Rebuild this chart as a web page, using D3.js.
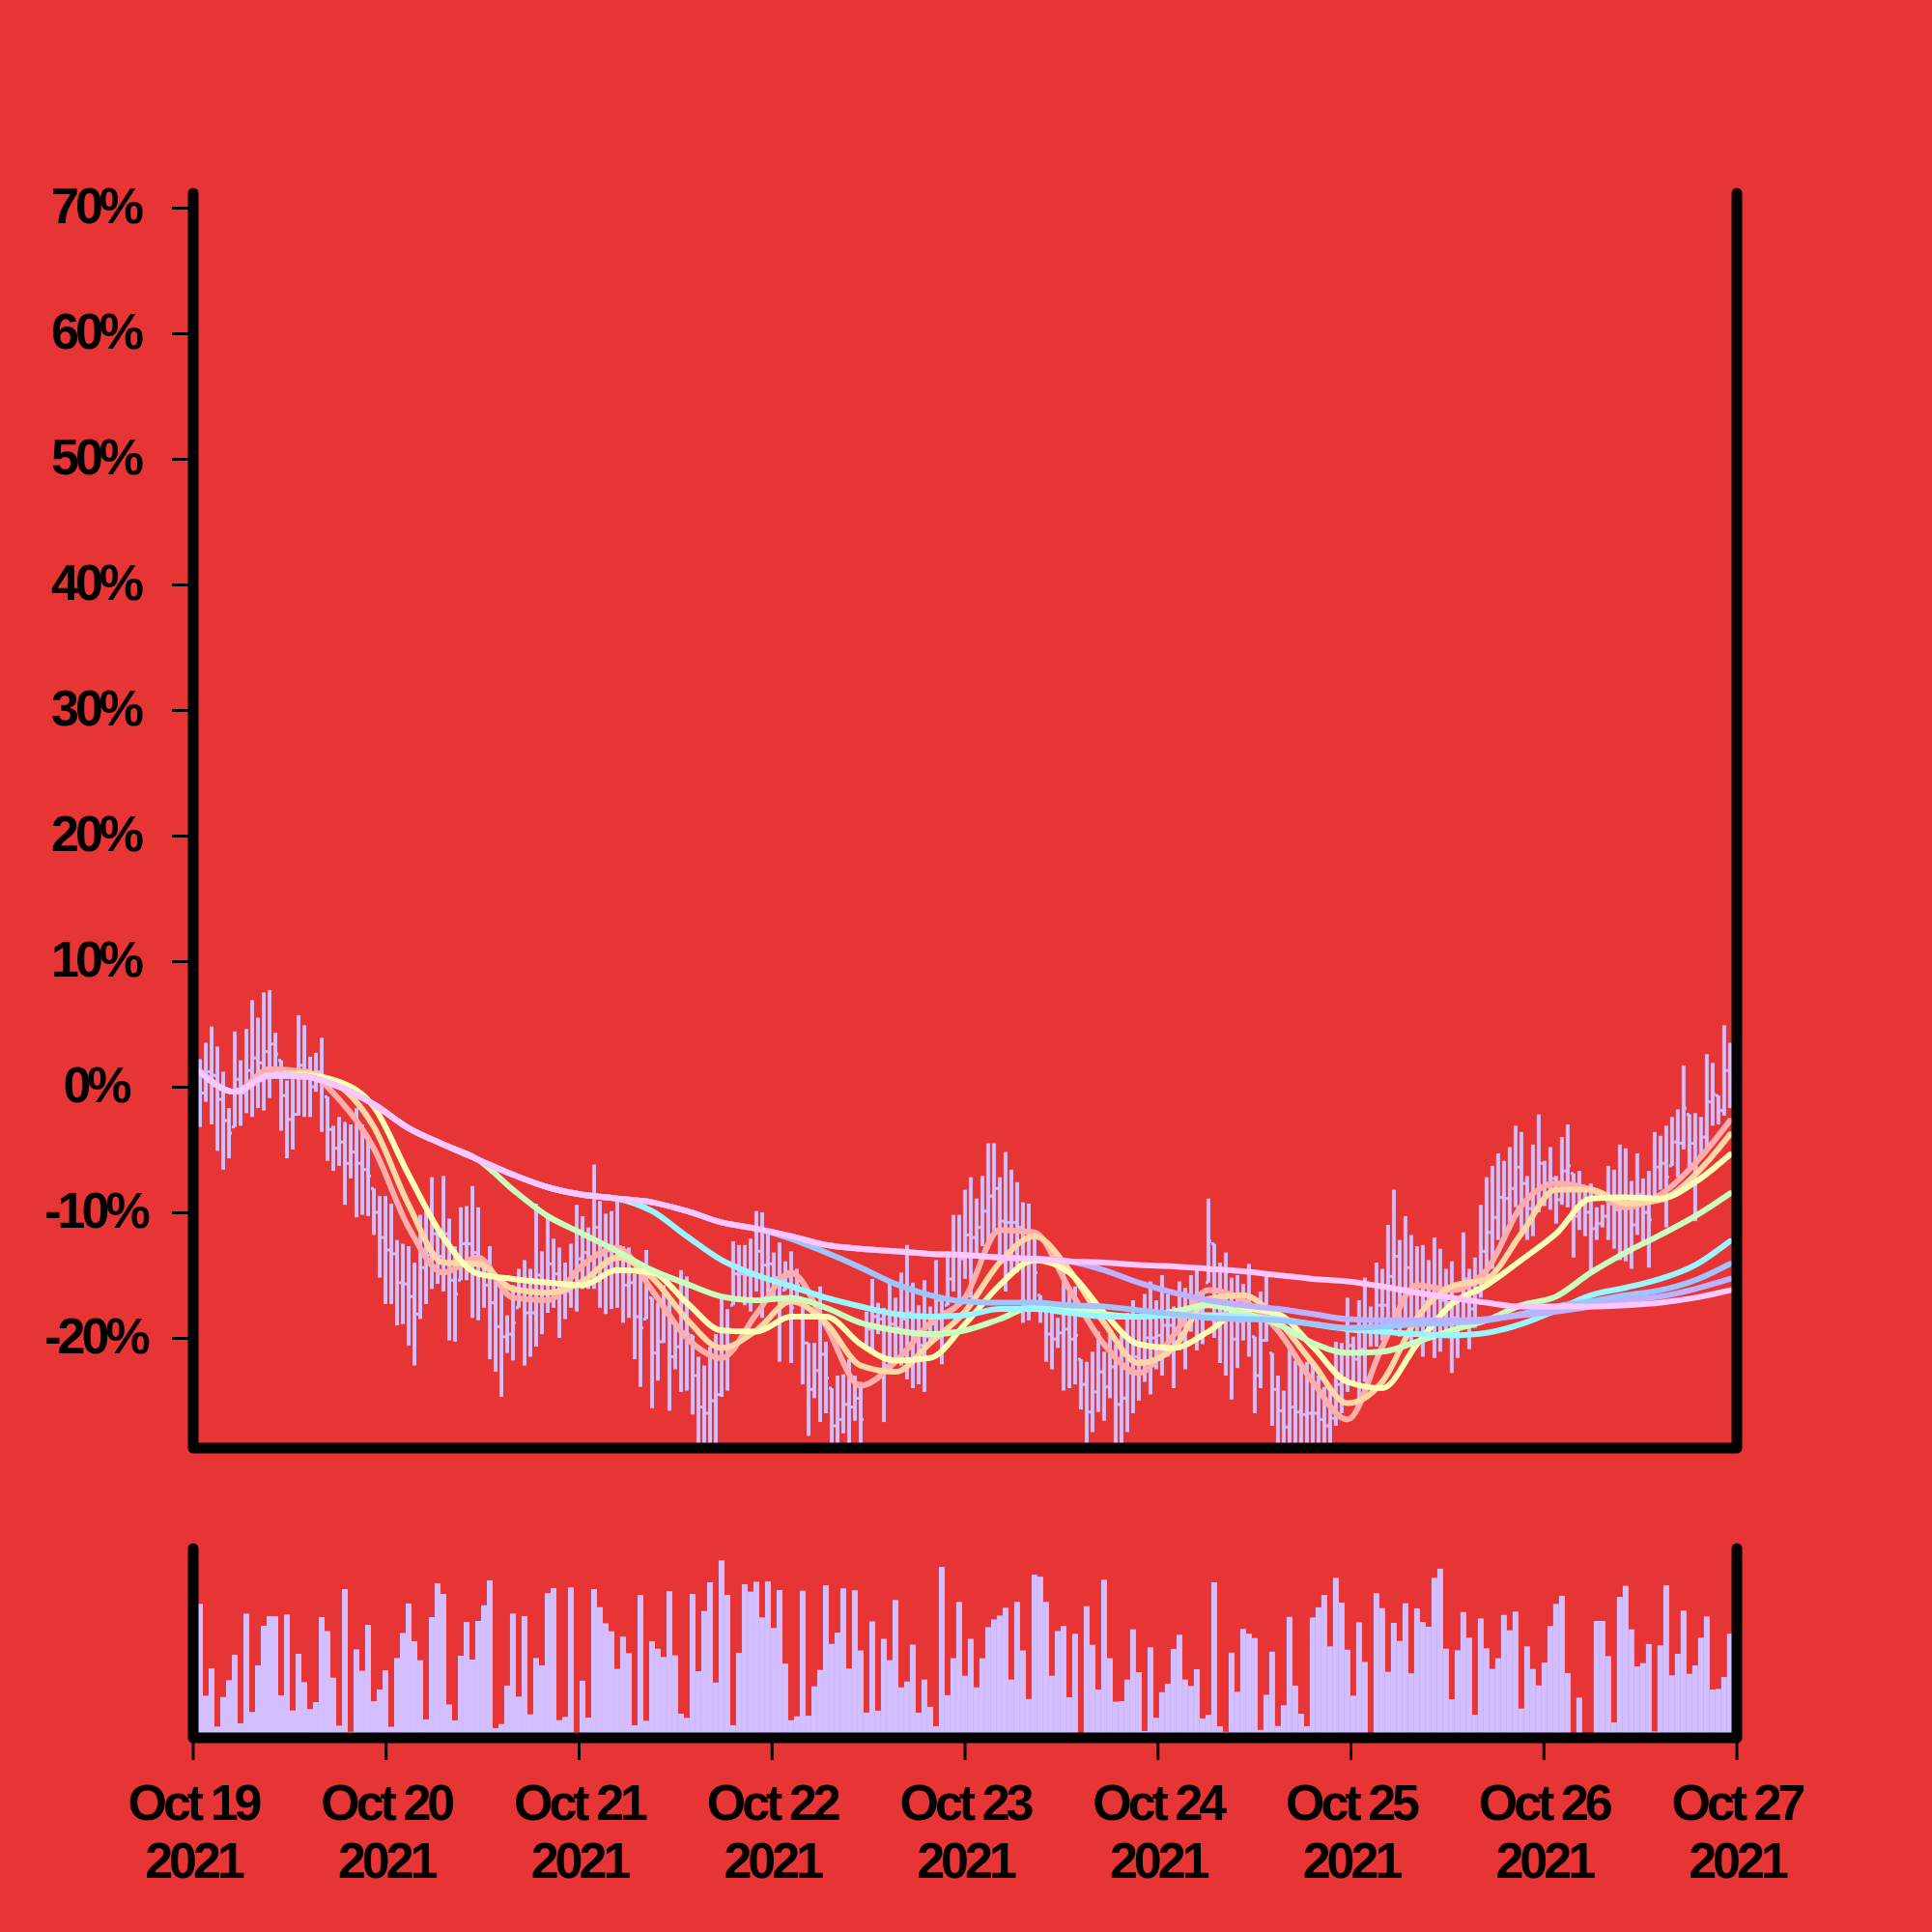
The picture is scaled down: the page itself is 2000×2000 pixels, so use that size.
<!DOCTYPE html>
<html><head><meta charset="utf-8">
<script src="https://cdn.jsdelivr.net/npm/d3@7"></script>
<style>html,body{margin:0;padding:0;background:#e73535;}svg{display:block}</style>
</head><body><svg id="chart" width="2000" height="2000"></svg>
<script>
// ---------- data ----------
const barStart = "2021-10-19T00:50:28";
const barIntervalMinutes = 43.25;
const highs = [2.2,3.5,4.8,3.2,1.2,-1.7,4.4,2.1,4.6,6.9,
5.5,7.5,7.7,4.3,2.1,0.5,0.6,5.7,4.9,2.4,
2.7,3.9,-0.8,-3.1,-2.4,-2.8,-3.0,-1.7,-3.0,-3.9,
-8.1,-8.7,-8.7,-9.3,-12.2,-12.5,-12.7,-14.0,-10.2,-9.4,
-7.2,-11.2,-7.1,-10.5,-12.7,-9.6,-9.5,-7.9,-9.6,-13.9,
-12.7,-15.4,-15.0,-18.2,-15.8,-14.5,-13.8,-14.5,-9.3,-13.1,
-10.2,-12.1,-12.8,-14.0,-12.5,-9.4,-10.3,-11.2,-6.2,-9.1,
-10.1,-9.9,-9.1,-12.7,-12.8,-14.9,-14.5,-13.0,-16.8,-17.2,
-15.8,-17.1,-18.8,-14.6,-15.1,-19.8,-21.5,-22.2,-20.7,-19.7,
-16.7,-17.7,-12.3,-12.6,-12.6,-12.1,-9.9,-10.0,-11.6,-13.2,
-12.4,-13.9,-13.1,-14.5,-17.1,-20.4,-20.4,-15.9,-20.3,-24.0,
-23.0,-22.9,-21.7,-23.0,-23.5,-17.9,-15.3,-17.2,-17.6,-15.3,
-16.8,-14.8,-12.6,-15.6,-17.4,-15.4,-17.5,-13.8,-16.8,-13.1,
-10.2,-10.2,-8.2,-7.2,-8.9,-7.1,-4.5,-4.5,-7.2,-5.2,
-6.6,-7.6,-9.2,-9.3,-11.6,-16.6,-17.4,-17.7,-18.4,-14.3,
-16.2,-15.9,-21.7,-21.9,-21.1,-19.5,-21.1,-19.7,-20.5,-19.5,
-18.0,-17.0,-18.5,-16.5,-15.5,-17.0,-15.0,-16.5,-17.5,-15.5,
-16.0,-15.0,-14.5,-16.5,-8.9,-12.5,-14.0,-13.2,-15.2,-15.0,
-15.7,-14.1,-19.9,-16.3,-14.9,-21.2,-23.0,-24.2,-20.9,-21.8,
-22.2,-21.9,-22.0,-23.0,-23.9,-23.8,-20.3,-20.4,-16.8,-19.9,
-17.0,-15.2,-17.5,-14.0,-14.5,-11.0,-8.2,-12.2,-10.3,-11.8,
-12.7,-12.6,-13.8,-12.0,-12.9,-14.5,-13.9,-16.8,-11.6,-14.5,
-13.6,-9.4,-7.2,-6.3,-5.3,-5.9,-4.8,-3.1,-3.6,-7.1,
-4.6,-2.2,-5.9,-4.8,-7.1,-4.0,-3.0,-6.9,-6.7,-8.1,
-7.7,-9.6,-9.4,-6.3,-6.6,-4.6,-4.9,-7.5,-5.3,-7.3,
-6.7,-3.6,-3.9,-3.1,-2.4,-1.8,1.7,-2.2,-2.1,-2.4,
2.6,1.9,-0.7,4.9,3.5];
const lows = [-3.2,-1.2,-3.0,-5.1,-6.6,-5.7,-3.2,-3.1,-2.1,-2.4,
-1.7,-1.9,-0.9,0.8,-3.5,-5.7,-5.0,-2.3,-2.4,-2.4,
-0.4,-3.6,-5.9,-6.7,-6.3,-9.4,-7.3,-10.4,-10.2,-10.3,
-11.8,-15.2,-17.3,-17.3,-19.0,-18.9,-20.6,-22.2,-18.5,-17.3,
-16.1,-15.7,-16.3,-20.2,-20.3,-15.4,-15.4,-18.4,-18.6,-17.6,
-21.7,-22.7,-24.7,-21.2,-21.8,-17.6,-22.2,-21.5,-20.7,-19.7,
-18.0,-17.6,-20.0,-18.5,-17.6,-17.9,-16.1,-16.1,-16.1,-17.6,
-18.1,-17.7,-17.6,-18.8,-18.4,-21.7,-23.9,-18.5,-25.6,-23.4,
-20.4,-25.8,-22.5,-24.3,-24.2,-26.1,-30,-30,-30,-30,
-24.7,-24.2,-17.4,-17.1,-17.4,-17.9,-16.3,-18.4,-16.5,-17.1,
-21.9,-16.2,-22.0,-17.1,-23.7,-27.8,-24.8,-26.7,-26.0,-30,
-30,-27.6,-30,-26.6,-30,-20.6,-21.2,-19.7,-26.7,-22.5,
-21.6,-22.2,-23.3,-24.0,-23.7,-24.3,-20.3,-20.2,-22.1,-17.4,
-16.3,-17.1,-15.3,-16.8,-13.5,-12.7,-12.9,-11.7,-14.1,-16.3,
-15.0,-14.8,-18.8,-18.6,-17.9,-18.8,-21.9,-22.5,-20.8,-24.2,
-24.0,-23.7,-25.7,-30,-27.5,-25.9,-26.6,-24.8,-30,-30,
-27.5,-26.0,-25.0,-23.5,-24.5,-22.5,-23.0,-21.5,-24.0,-21.0,
-22.5,-19.5,-21.0,-20.5,-15.6,-20.0,-22.0,-23.0,-24.9,-22.4,
-20.2,-21.5,-26.0,-24.0,-20.3,-27.0,-28.5,-30,-30,-30,
-30,-30,-30,-30,-30,-29.0,-27.0,-26.0,-24.3,-23.5,
-24.8,-23.5,-20.7,-20.7,-20.2,-19.2,-18.7,-19.9,-18.4,-20.7,
-19.9,-21.5,-19.9,-21.6,-21.1,-19.9,-22.8,-21.6,-18.9,-20.9,
-19.2,-16.8,-16.0,-14.5,-12.2,-11.9,-11.4,-9.6,-11.8,-12.2,
-11.9,-10.0,-9.5,-9.8,-10.9,-9.4,-9.6,-13.6,-11.4,-11.9,
-14.8,-12.2,-11.2,-12.2,-12.9,-13.8,-13.9,-14.5,-11.8,-12.7,
-14.4,-9.1,-8.2,-11.2,-6.3,-7.2,-5.0,-6.7,-10.7,-5.5,
-5.0,-3.1,-3.0,-2.3,-1.7];
const opens = [1.0,-0.5,1.2,0.9,-1.0,-2.7,-3.2,0.6,-0.5,1.3,
2.3,1.9,2.8,3.4,2.1,-0.7,-2.6,-2.2,1.7,1.3,
0.0,1.2,-0.8,-3.4,-4.9,-4.4,-6.1,-5.2,-6.1,-6.6,
-8.1,-10.0,-12.0,-13.0,-13.3,-15.6,-15.7,-16.7,-18.1,-14.4,
-13.4,-11.7,-13.5,-11.7,-15.4,-15.4,-12.5,-12.5,-13.2,-14.1,
-15.8,-17.2,-19.1,-19.9,-19.7,-17.6,-16.1,-18.0,-18.0,-15.0,
-16.4,-14.1,-14.9,-16.4,-16.3,-15.1,-13.7,-13.2,-13.7,-11.2,
-13.4,-14.1,-13.8,-13.4,-15.8,-15.6,-18.3,-18.5,-16.8,-21.2,
-20.3,-18.1,-21.5,-20.7,-19.5,-19.8,-23.0,-25.5,-26.0,-25.0,
-24.5,-20.7,-17.4,-14.9,-14.9,-15.0,-15.0,-13.1,-14.2,-14.1,
-15.2,-16.2,-15.1,-17.1,-17.1,-20.4,-24.1,-22.6,-21.3,-24.0,
-27.0,-26.5,-25.3,-25.5,-24.8,-20.6,-19.3,-18.3,-18.5,-22.2,
-18.9,-19.2,-18.5,-18.0,-19.8,-20.6,-19.9,-18.9,-17.0,-17.4,
-15.3,-13.3,-13.7,-11.8,-12.0,-11.2,-9.9,-8.7,-8.1,-10.7,
-10.8,-10.8,-11.2,-14.0,-14.0,-16.6,-17.7,-19.7,-20.1,-19.6,
-19.3,-20.1,-21.7,-23.7,-25.9,-24.3,-22.7,-23.9,-22.3,-25.3,
-24.8,-22.8,-21.5,-21.8,-20.0,-20.0,-19.8,-19.0,-19.0,-20.8,
-18.3,-19.3,-17.3,-17.8,-15.6,-12.5,-16.3,-18.0,-18.1,-20.1,
-18.7,-18.0,-19.9,-23.0,-20.2,-21.2,-24.1,-25.8,-27.1,-25.5,
-25.9,-26.1,-26.0,-26.0,-26.5,-27.0,-26.4,-23.7,-23.2,-20.6,
-21.7,-20.9,-19.4,-19.1,-17.4,-17.4,-15.1,-13.5,-16.1,-14.4,
-16.3,-16.3,-17.1,-16.9,-16.8,-17.0,-17.2,-18.4,-18.9,-15.3,
-17.7,-16.4,-13.1,-11.6,-10.4,-8.8,-8.9,-8.1,-6.4,-7.7,
-9.7,-8.3,-6.1,-7.7,-7.3,-9.0,-6.7,-6.9,-10.3,-9.1,
-10.0,-11.3,-10.9,-10.3,-9.3,-9.8,-9.2,-9.4,-11.0,-8.6,
-10.0,-9.1,-6.4,-6.1,-6.3,-4.4,-4.5,-2.2,-4.5,-5.5,
-4.0,-1.2,-0.7,-1.9,1.3];
const closes = [-0.5,1.2,0.9,-1.0,-2.7,-3.7,0.6,-0.5,1.3,2.3,
1.9,2.8,3.4,2.6,-0.7,-2.6,-2.2,1.7,1.3,0.0,
1.2,0.2,-3.4,-4.9,-4.4,-6.1,-5.2,-6.1,-6.6,-7.1,
-10.0,-12.0,-13.0,-13.3,-15.6,-15.7,-16.7,-18.1,-14.4,-13.4,
-11.7,-13.5,-11.7,-15.4,-16.5,-12.5,-12.5,-13.2,-14.1,-15.8,
-17.2,-19.1,-19.9,-19.7,-18.8,-16.1,-18.0,-18.0,-15.0,-16.4,
-14.1,-14.9,-16.4,-16.3,-15.1,-13.7,-13.2,-13.7,-11.2,-13.4,
-14.1,-13.8,-13.4,-15.8,-15.6,-18.3,-19.2,-15.8,-21.2,-20.3,
-18.1,-21.5,-20.7,-19.5,-19.7,-23.0,-25.5,-26.0,-25.0,-24.5,
-20.7,-21.0,-14.9,-14.9,-15.0,-15.0,-13.1,-14.2,-14.1,-15.2,
-17.2,-15.1,-17.6,-15.8,-20.4,-24.1,-22.6,-21.3,-23.2,-27.0,
-26.5,-25.3,-25.5,-24.8,-26.5,-19.3,-18.3,-18.5,-22.2,-18.9,
-19.2,-18.5,-18.0,-19.8,-20.6,-19.9,-18.9,-17.0,-19.5,-15.3,
-13.3,-13.7,-11.8,-12.0,-11.2,-9.9,-8.7,-8.1,-10.7,-10.8,
-10.8,-11.2,-14.0,-14.0,-14.8,-17.7,-19.7,-20.1,-19.6,-19.3,
-20.1,-19.8,-23.7,-25.9,-24.3,-22.7,-23.9,-22.3,-25.3,-24.8,
-22.8,-21.5,-21.8,-20.0,-20.0,-19.8,-19.0,-19.0,-20.8,-18.3,
-19.3,-17.3,-17.8,-18.5,-12.3,-16.3,-18.0,-18.1,-20.1,-18.7,
-18.0,-17.8,-23.0,-20.2,-17.6,-24.1,-25.8,-27.1,-25.5,-25.9,
-26.1,-26.0,-26.0,-26.5,-27.0,-26.4,-23.7,-23.2,-20.6,-21.7,
-20.9,-19.4,-19.1,-17.4,-17.4,-15.1,-13.5,-16.1,-14.4,-16.3,
-16.3,-17.1,-16.9,-16.8,-17.0,-17.2,-18.4,-19.2,-15.3,-17.7,
-16.4,-13.1,-11.6,-10.4,-8.8,-8.9,-8.1,-6.4,-7.7,-9.7,
-8.3,-6.1,-7.7,-7.3,-9.0,-6.7,-6.3,-10.3,-9.1,-10.0,
-11.3,-10.9,-10.3,-9.3,-9.8,-9.2,-9.4,-11.0,-8.6,-10.0,
-10.6,-6.4,-6.1,-7.2,-4.4,-4.5,-1.7,-4.5,-6.4,-4.0,
-1.2,-0.6,-1.9,1.3,0.9];
const volumes = [69,21.7,35.8,5.8,21,29.7,42.8,7.5,64,13.3,
37.3,57.7,62.7,62.7,21.9,63.5,14.1,43.3,28.7,14.8,
18.4,62.2,55,31,6.3,76.6,3.1,45.6,34.5,58.2,
18.9,24.9,34.8,5.7,41.1,54,69.2,49.8,40,9.5,
62.2,79.6,74.1,17.2,9,42.3,59.7,40.3,60.2,68.3,
81.1,5,7.1,26.9,64,21.2,62.7,12.1,41.1,37.3,
74.5,77.1,9.1,10.8,77.5,2.8,29.4,10.4,76.6,67.3,
59,54.9,35.5,52.1,43.6,6.5,73.6,8.8,49.8,45.9,
41.6,75.6,42.5,12.4,10.3,74.1,34.3,65.3,80.1,28.5,
91.4,73.6,6.5,43.8,79.1,75.3,80.4,62,80.6,56.6,
76.1,38.2,9.1,11.1,75.8,11.4,26.5,35,78.6,48.4,
54.2,77,35.7,76,45,13,60,14,51,40,
71,26,29,48,13,30,16,6,88,22,
41,70,32,51,26,41,57,61,63,67,
30,70,45,20,84,83,70,32,55,57.6,
20.9,53.6,0,67.8,47.9,24.9,81.4,41,18.6,18.9,
30,55.9,33.8,3.5,46.6,10.3,23.5,27.9,45.8,53.1,
30,26.7,35.3,10,11.9,80.1,6,3.1,43.9,23.7,
56.1,53.7,51.4,4.1,22.2,44.4,6.1,16.8,62.3,26.9,
12.4,6,62,67.2,73.6,47.1,82.4,69.7,45.4,21.7,
59.5,39.1,0,74.5,66.8,34,59.2,49.9,69.3,33.2,
66.7,59.7,57.2,82.4,87.1,45.9,19.9,45.1,64.8,51.6,
11.9,61.5,46.1,35.5,41,63.3,55.4,65,15.1,47.1,
35.5,27,38.8,57.6,69,73.1,33.3,0,20.7,0,
0,60.2,60.2,42.1,8,72.6,78.3,55.9,36.8,38.5,
48.3,3.3,47.6,78.6,32.2,43.3,65.5,33,37.3,51.6,
62.5,24.9,25.2,31.3,53.7];
// moving-average lines, read at every 6th bar (bar index list below)
const maBars = [0,6,12,18,24,30,36,42,48,54,60,66,72,78,84,90,96,102,108,114,120,126,132,138,144,150,156,162,168,174,180,186,192,198,204,210,216,222,228,234,240,246,252,258,264];
const maSalmon = [1.2,-0.4,1.4,1.2,-1.0,-4.9,-11.2,-14.8,-13.6,-16.8,-17.0,-14.2,-12.8,-16.2,-20.0,-21.6,-18.1,-14.8,-19.0,-23.8,-21.9,-18.8,-16.8,-11.4,-11.6,-16.1,-20.5,-22.8,-19.8,-16.2,-17.0,-19.4,-23.5,-26.5,-20.7,-15.8,-16.2,-14.6,-9.5,-7.7,-8.2,-9.6,-8.6,-6.1,-2.7];
const maPeach = [1.2,-0.4,0.9,1.1,0.1,-3.2,-9.4,-14.0,-14.1,-16.1,-16.4,-15.5,-13.6,-15.2,-18.5,-20.8,-19.4,-17.1,-18.8,-22.2,-22.7,-20.4,-17.9,-14.0,-11.9,-14.6,-18.8,-22.0,-20.8,-16.9,-16.6,-18.6,-22.0,-25.2,-23.5,-18.4,-15.9,-15.3,-11.7,-8.2,-8.2,-9.3,-9.0,-7.0,-3.8];
const maYellow = [1.2,-0.4,0.9,0.9,0.4,-1.6,-7.0,-12.0,-14.9,-15.3,-15.6,-15.8,-14.6,-14.8,-17.2,-19.4,-19.5,-18.3,-18.3,-20.5,-21.8,-21.6,-18.9,-15.8,-13.8,-14.8,-18.0,-20.5,-20.8,-19.5,-17.7,-18.1,-20.7,-23.5,-24.0,-20.5,-17.3,-15.8,-13.8,-11.7,-8.9,-8.8,-8.9,-7.6,-5.4];
const maGreen = [1.2,-0.4,0.9,0.8,0.0,-1.4,-3.3,-4.6,-5.8,-8.2,-10.3,-11.7,-13.1,-14.6,-15.7,-16.7,-17.0,-16.8,-17.6,-18.8,-19.4,-19.7,-19.4,-18.5,-17.5,-17.6,-18.1,-18.3,-17.9,-17.4,-18.0,-18.9,-20.4,-21.2,-21.1,-20.3,-19.4,-18.6,-17.4,-16.7,-14.8,-13.2,-11.8,-10.3,-8.5];
const maCyan = [1.2,-0.4,0.9,0.8,0.0,-1.4,-3.3,-4.6,-5.8,-7.0,-8.0,-8.6,-8.9,-9.9,-11.9,-13.8,-15.0,-15.9,-16.8,-17.5,-18.1,-18.3,-18.2,-17.7,-17.7,-18.0,-18.3,-18.3,-18.2,-18.2,-18.3,-18.5,-18.9,-19.3,-19.5,-19.7,-19.8,-19.6,-18.9,-17.8,-16.6,-16.0,-15.3,-14.2,-12.3];
const maBlue = [1.2,-0.4,0.9,0.8,0.0,-1.4,-3.3,-4.6,-5.8,-7.0,-8.0,-8.6,-8.9,-9.2,-9.9,-10.8,-11.3,-12.1,-13.2,-14.4,-15.7,-16.6,-17.1,-17.2,-17.2,-17.4,-17.5,-17.8,-18.1,-18.4,-18.5,-18.6,-18.9,-19.2,-19.1,-18.9,-18.8,-18.6,-18.1,-17.5,-17.1,-16.6,-16.2,-15.4,-14.1];
const maLavender = [1.2,-0.4,0.9,0.8,0.0,-1.4,-3.3,-4.6,-5.8,-7.0,-8.0,-8.6,-8.9,-9.2,-9.9,-10.8,-11.3,-11.9,-12.6,-12.9,-13.1,-13.3,-13.4,-13.6,-13.7,-13.9,-14.6,-15.6,-16.4,-17.0,-17.4,-17.7,-18.1,-18.5,-18.6,-18.6,-18.6,-18.5,-18.2,-17.9,-17.5,-17.0,-16.7,-16.1,-15.3];
const maPink = [1.2,-0.4,0.9,0.8,0.0,-1.4,-3.3,-4.6,-5.8,-7.0,-8.0,-8.6,-8.9,-9.2,-9.9,-10.8,-11.3,-11.9,-12.6,-12.9,-13.1,-13.3,-13.4,-13.6,-13.7,-13.9,-14.0,-14.2,-14.3,-14.5,-14.7,-15.0,-15.3,-15.5,-15.9,-16.4,-16.8,-17.2,-17.5,-17.5,-17.5,-17.4,-17.2,-16.8,-16.2];
const yTicks = [-20,-10,0,10,20,30,40,50,60,70];
const xTickDates = ["2021-10-19","2021-10-20","2021-10-21","2021-10-22","2021-10-23","2021-10-24","2021-10-25","2021-10-26","2021-10-27"];

// ---------- style ----------
const BG = "#e73535", BAR = "#d3bfff", INK = "#000";
const maSeries = [
  {v: maSalmon, c: "#ffadad"}, {v: maPeach, c: "#ffd6a5"}, {v: maYellow, c: "#fdffb6"},
  {v: maGreen, c: "#caffbf"}, {v: maCyan, c: "#9bf6ff"}, {v: maBlue, c: "#a0c4ff"},
  {v: maLavender, c: "#bdb2ff"}, {v: maPink, c: "#ffc6ff"}
];
const FONT = "'Liberation Sans', Arial, Helvetica, sans-serif";

const svg = d3.select("#chart");
svg.append("rect").attr("width", 2000).attr("height", 2000).attr("fill", BG);

const L = 200, R = 1798, mainTop = 200, mainBot = 1499, volTop = 1603, volBot = 1799;
const parseDay = d3.timeParse("%Y-%m-%d");
const parseStart = d3.timeParse("%Y-%m-%dT%H:%M:%S");
const startLocal = parseStart(barStart);
const barTime = i => new Date(startLocal.getTime() + i * barIntervalMinutes * 60000);

const x = d3.scaleTime().domain([parseDay(xTickDates[0]), parseDay(xTickDates[xTickDates.length - 1])]).range([L, R]);
const y = d3.scaleLinear().domain([-(mainBot - 1125) / 13, (1125 - mainTop) / 13]).range([mainBot, mainTop]);
const vy = d3.scaleLinear().domain([0, 100]).range([volBot, 1598]);

svg.append("clipPath").attr("id", "clipMain").append("rect")
  .attr("x", L).attr("y", mainTop - 5).attr("width", R - L).attr("height", mainBot - mainTop + 5);

// OHLC bars
const ohlc = svg.append("g").attr("clip-path", "url(#clipMain)")
  .attr("stroke", BAR).attr("fill", "none");
highs.forEach((h, i) => {
  const cx = x(barTime(i));
  ohlc.append("line").attr("x1", cx).attr("x2", cx).attr("y1", y(h)).attr("y2", y(lows[i])).attr("stroke-width", 4);
  ohlc.append("line").attr("x1", cx - 3).attr("x2", cx).attr("y1", y(opens[i])).attr("y2", y(opens[i])).attr("stroke-width", 3);
  ohlc.append("line").attr("x1", cx).attr("x2", cx + 3).attr("y1", y(closes[i])).attr("y2", y(closes[i])).attr("stroke-width", 3);
});

// moving averages
const maG = svg.append("g").attr("clip-path", "url(#clipMain)");
maSeries.forEach(s => {
  const line = d3.line().x((d, j) => x(barTime(maBars[j]))).y(d => y(d)).curve(d3.curveMonotoneX);
  maG.append("path").attr("d", line(s.v)).attr("fill", "none").attr("stroke", s.c)
    .attr("stroke-width", 6).attr("stroke-linejoin", "round").attr("stroke-linecap", "round");
});

// volume bars
svg.append("g").selectAll("rect").data(volumes).join("rect")
  .attr("x", (d, i) => x(barTime(i)) - 3).attr("width", 6)
  .attr("y", d => vy(d)).attr("height", d => vy(0) - vy(d)).attr("fill", BAR);

// frames
const frame = (top, bot) => svg.append("path")
  .attr("d", `M${L},${top}V${bot}H${R}V${top}`).attr("fill", "none").attr("stroke", INK)
  .attr("stroke-width", 11).attr("stroke-linecap", "round").attr("stroke-linejoin", "round");

// y axis ticks and labels
const yAxis = svg.append("g").attr("transform", `translate(${L},0)`)
  .call(d3.axisLeft(y).tickValues(yTicks).tickSize(22).tickSizeOuter(0).tickFormat(d => d + "%"));
yAxis.select(".domain").remove();
yAxis.selectAll(".tick line").attr("stroke", INK).attr("stroke-width", 3);
yAxis.selectAll(".tick text").attr("x", -101).attr("dy", 15).attr("text-anchor", "middle")
  .attr("fill", INK).style("font-family", FONT).style("font-weight", "bold")
  .style("font-size", "52px").style("letter-spacing", "-4px");

frame(mainTop, mainBot);
frame(volTop, volBot);

// x axis ticks and two-line labels
const fmtA = d3.timeFormat("%b %-d"), fmtB = d3.timeFormat("%Y");
const xg = svg.append("g");
xTickDates.map(parseDay).forEach(d => {
  const px = x(d);
  xg.append("line").attr("x1", px).attr("x2", px).attr("y1", volBot).attr("y2", 1822)
    .attr("stroke", INK).attr("stroke-width", 3);
  const t = xg.append("text").attr("text-anchor", "middle").attr("fill", INK)
    .style("font-family", FONT).style("font-weight", "bold").style("font-size", "52px").style("letter-spacing", "-4px");
  t.append("tspan").attr("x", px).attr("y", 1884).text(fmtA(d));
  t.append("tspan").attr("x", px).attr("y", 1944).text(fmtB(d));
});
</script></body></html>
